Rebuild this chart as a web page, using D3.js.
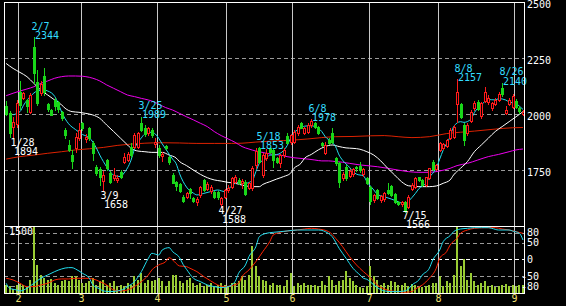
<!DOCTYPE html>
<html>
<head>
<meta charset="utf-8">
<script src="https://cdn.jsdelivr.net/npm/d3@7"></script>
<style>
  html, body { margin: 0; background: #000; }
  svg { display: block; }
  text { font-family: "DejaVu Sans Mono", monospace; font-size: 10px; }
</style>
</head>
<body>
<script>
// trading days shown, 2022
const dates = [
  "1/26","1/27","1/28","1/31",
  "2/1","2/2","2/3","2/4","2/7","2/8","2/9","2/10","2/14","2/15","2/16","2/17","2/18","2/21","2/22","2/24","2/25","2/28",
  "3/1","3/2","3/3","3/4","3/7","3/8","3/9","3/10","3/11","3/14","3/15","3/16","3/17","3/18","3/22","3/23","3/24","3/25","3/28","3/29","3/30","3/31",
  "4/1","4/4","4/5","4/6","4/7","4/8","4/11","4/12","4/13","4/14","4/15","4/18","4/19","4/20","4/21","4/22","4/25","4/26","4/27","4/28",
  "5/2","5/6","5/9","5/10","5/11","5/12","5/13","5/16","5/17","5/18","5/19","5/20","5/23","5/24","5/25","5/26","5/27","5/30","5/31",
  "6/1","6/2","6/3","6/6","6/7","6/8","6/9","6/10","6/13","6/14","6/15","6/16","6/17","6/20","6/21","6/22","6/23","6/24","6/27","6/28","6/29","6/30",
  "7/1","7/4","7/5","7/6","7/7","7/8","7/11","7/12","7/13","7/14","7/15","7/19","7/20","7/21","7/22","7/25","7/26","7/27","7/28","7/29",
  "8/1","8/2","8/3","8/4","8/5","8/8","8/9","8/10","8/12","8/15","8/16","8/17","8/18","8/19","8/22","8/23","8/24","8/25","8/26","8/29","8/30","8/31",
  "9/1","9/2","9/5"
];

const opens = [2035,2005,1945,1955,2100,2075,2065,2012,2302,2145,2095,2170,2045,2018,2062,2055,2010,1930,1862,1818,1848,1893,
  1960,1890,1937,1870,1766,1758,1702,1796,1737,1714,1707,1744,1789,1796,1856,1856,1856,1960,1937,1915,1930,1869,
  1851,1815,1858,1811,1729,1699,1689,1632,1632,1666,1628,1607,1640,1707,1667,1658,1652,1655,1601,1632,
  1662,1677,1699,1707,1692,1699,1672,1670,1775,1848,1729,1803,1851,1841,1803,1781,1818,1905,1875,
  1878,1915,1960,1915,1923,1952,1960,1945,1870,1826,1885,1915,1806,1781,1714,1766,1725,1732,1766,1771,1732,1717,
  1677,1617,1662,1617,1620,1662,1681,1643,1610,1598,1610,1588,1666,1677,1718,1707,1684,1714,1786,1756,
  1841,1851,1859,1893,1900,2045,2045,1952,1915,1970,2027,2053,1992,2060,2053,2027,2045,2064,2119,2004,2045,2034,
  2060,2030,2000];
const highs = [2060,2015,1990,2065,2150,2100,2070,2093,2344,2200,2150,2205,2050,2025,2075,2060,2015,1937,1885,1840,1915,1960,
  1965,1910,1945,1880,1773,1765,1745,1800,1745,1762,1729,1750,1826,1830,1870,1915,1923,1989,1952,1945,1937,1893,
  1863,1833,1862,1815,1736,1703,1692,1640,1655,1670,1632,1632,1681,1710,1699,1684,1658,1658,1632,1667,
  1685,1720,1729,1714,1710,1707,1699,1770,1848,1853,1826,1845,1850,1845,1811,1822,1848,1915,1912,
  1930,1952,1967,1945,1960,1978,1965,1950,1878,1875,1896,1937,1811,1789,1744,1774,1755,1762,1768,1789,1760,1722,
  1681,1645,1666,1640,1652,1692,1684,1647,1615,1612,1613,1640,1692,1720,1722,1710,1722,1762,1795,1780,
  1875,1870,1890,1937,1952,2157,2050,1960,1960,2020,2060,2065,2055,2123,2085,2055,2073,2100,2140,2035,2073,2090,
  2070,2035,2018];
const lows = [1995,1900,1894,1945,2025,2070,2012,2005,2140,2040,2085,2085,2015,1995,2020,2010,1975,1893,1835,1760,1833,1885,
  1930,1878,1885,1796,1730,1684,1658,1752,1692,1707,1699,1715,1781,1790,1811,1848,1848,1925,1905,1908,1900,1856,
  1811,1793,1845,1780,1692,1662,1655,1610,1628,1625,1610,1595,1632,1658,1662,1650,1628,1622,1588,1628,
  1655,1670,1692,1688,1670,1640,1668,1660,1760,1781,1720,1796,1826,1766,1781,1766,1811,1870,1868,
  1870,1908,1937,1911,1918,1945,1937,1911,1860,1822,1866,1870,1775,1677,1707,1707,1718,1725,1745,1744,1726,1688,
  1598,1610,1620,1610,1615,1642,1635,1603,1595,1592,1566,1583,1660,1672,1703,1680,1680,1710,1750,1750,
  1835,1845,1855,1888,1895,1967,1985,1863,1908,1965,2020,2020,1985,2053,2047,2020,2040,2058,2080,2000,2040,2028,
  2028,2008,1995];
const closes = [2000,1915,1965,2050,2040,2095,2035,2085,2186,2050,2135,2100,2025,1998,2035,2025,1985,1908,1841,1790,1900,1930,
  1938,1900,1893,1826,1737,1722,1729,1759,1699,1729,1717,1722,1811,1821,1818,1908,1915,1930,1911,1937,1908,1878,
  1818,1821,1848,1789,1695,1681,1658,1615,1647,1647,1613,1622,1677,1662,1687,1677,1632,1633,1628,1662,
  1672,1714,1722,1692,1704,1643,1692,1762,1835,1789,1818,1826,1833,1796,1789,1818,1841,1873,1907,
  1923,1945,1940,1937,1952,1970,1945,1915,1863,1863,1870,1878,1781,1699,1732,1714,1745,1754,1762,1750,1756,1692,
  1613,1640,1625,1635,1647,1647,1640,1607,1598,1607,1573,1632,1684,1714,1707,1684,1718,1759,1756,1774,
  1870,1866,1885,1930,1945,2101,1990,1885,1952,2012,2049,2024,2049,2098,2074,2049,2064,2089,2089,2018,2064,2083,
  2034,2015,2012];

// volume, thousand shares
const volumes = [186,149,97,172,201,186,149,298,1470,634,410,336,298,321,224,186,261,298,261,373,373,298,
  224,224,261,336,186,261,298,186,224,261,149,186,149,224,186,373,298,448,224,298,261,298,
  336,261,149,261,410,410,261,224,298,336,224,186,224,149,186,224,149,186,224,186,
  149,224,224,261,373,298,410,1045,612,373,298,261,186,224,186,186,149,298,448,
  149,224,186,224,186,186,186,149,261,186,373,298,186,261,298,485,336,261,186,127,112,149,
  612,373,298,186,224,172,276,239,186,172,224,149,201,186,127,127,149,186,224,224,
  373,149,261,224,410,1470,597,768,298,448,261,186,224,261,149,172,127,149,172,201,149,186,
  149,172,172];

// moving averages: [day index, price]
const maShort = [[2,1998],[4,2012],[5,2040],[7,2080],[9,2104],[11,2108],[12,2104],[14,2080],[15,2049],[16,2010],[18,1958],
  [20,1932],[22,1910],[24,1895],[26,1850],[27,1818],[28,1790],[30,1744],[31,1728],[33,1722],[34,1738],[36,1795],[37,1845],
  [39,1895],[40,1912],[42,1920],[43,1912],[45,1868],[46,1845],[48,1800],[49,1780],[50,1735],[52,1675],[54,1648],[55,1640],
  [57,1647],[59,1655],[61,1662],[63,1655],[64,1665],[66,1692],[68,1699],[69,1692],[71,1705],[72,1744],[73,1781],[75,1803],
  [76,1818],[77,1818],[79,1826],[81,1860],[82,1893],[83,1918],[85,1937],[86,1947],[88,1949],[89,1945],[91,1923],[92,1900],
  [94,1875],[95,1855],[96,1818],[97,1795],[99,1763],[100,1744],[101,1733],[103,1725],[104,1700],[106,1662],[107,1643],
  [109,1632],[111,1622],[113,1610],[115,1598],[116,1612],[118,1647],[119,1668],[121,1692],[122,1718],[124,1760],[125,1800],
  [126,1840],[128,1900],[129,1945],[131,1967],[132,1964],[134,1978],[135,2008],[137,2042],[138,2057],[139,2066],[141,2064],
  [142,2070],[144,2064],[145,2055],[147,2048],[148,2036],[149,2022]];
const maMid = [[0,2227],[2,2205],[4,2187],[6,2168],[8,2138],[10,2108],[12,2086],[14,2064],[16,2042],[17,2027],[19,2012],
  [21,2009],[23,2004],[25,1997],[27,1982],[29,1952],[31,1923],[33,1893],[35,1863],[36,1848],[38,1836],[40,1833],[42,1830],
  [45,1830],[47,1818],[49,1805],[50,1789],[52,1771],[54,1751],[56,1732],[58,1717],[60,1707],[62,1702],[64,1696],[66,1692],
  [68,1684],[71,1677],[73,1677],[74,1687],[76,1699],[78,1711],[80,1722],[82,1737],[83,1759],[85,1781],[86,1803],[88,1821],
  [90,1841],[92,1856],[94,1863],[96,1856],[98,1850],[100,1848],[102,1844],[104,1833],[106,1818],[108,1792],[110,1759],
  [112,1729],[114,1699],[116,1681],[119,1677],[122,1677],[124,1680],[126,1692],[128,1707],[129,1729],[131,1759],[133,1789],
  [135,1833],[137,1863],[139,1893],[141,1923],[143,1945],[145,1967],[147,1989],[148,2000],[149,2012]];
const maLong = [[0,2083],[2,2094],[4,2104],[6,2113],[8,2123],[10,2138],[12,2149],[14,2161],[16,2168],[18,2171],[20,2171],
  [22,2170],[23,2168],[25,2161],[27,2149],[29,2131],[31,2116],[33,2101],[35,2086],[37,2079],[39,2071],[41,2064],[43,2053],
  [44,2045],[46,2030],[48,2019],[50,2004],[52,1989],[54,1975],[56,1960],[58,1945],[60,1923],[62,1905],[64,1890],[66,1875],
  [68,1856],[70,1845],[72,1836],[73,1833],[75,1826],[77,1821],[79,1818],[81,1811],[83,1806],[85,1803],[87,1800],[89,1796],
  [91,1792],[93,1792],[95,1789],[97,1786],[99,1781],[102,1774],[104,1771],[107,1766],[110,1759],[113,1751],[116,1744],
  [119,1741],[122,1741],[125,1747],[128,1759],[130,1771],[133,1781],[136,1796],[139,1811],[142,1821],[145,1833],[147,1841],
  [149,1845]];
const maYear = [[0,1800],[4,1811],[8,1818],[12,1826],[16,1833],[20,1841],[24,1846],[28,1852],[32,1861],[36,1867],[40,1871],
  [45,1873],[50,1872],[55,1870],[60,1870],[65,1870],[68,1871],[72,1876],[77,1881],[83,1885],[87,1890],[91,1896],[95,1900],
  [100,1901],[105,1904],[109,1905],[113,1900],[117,1896],[122,1900],[127,1914],[131,1920],[135,1925],[141,1934],[146,1940],
  [149,1941]];

// RCI oscillators: [day index, value]
const rciShort = [[0,-72],[1,-87],[3,-92],[4,-95],[6,-87],[8,-72],[10,-57],[12,-47],[14,-37],[16,-29],[18,-25],[19,-25],
  [20,-29],[22,-42],[24,-57],[25,-77],[27,-89],[28,-95],[30,-97],[32,-95],[34,-89],[35,-82],[37,-67],[39,-37],[41,3],[42,18],
  [44,13],[45,28],[47,35],[48,23],[50,5],[51,-15],[52,-30],[54,-57],[56,-67],[58,-77],[60,-82],[62,-85],[64,-82],[66,-67],
  [67,-42],[69,-17],[70,8],[72,38],[73,68],[75,78],[77,81],[79,83],[81,85],[84,88],[87,88],[90,88],[92,83],[94,68],[96,33],
  [98,3],[100,-27],[102,-47],[103,-57],[104,-60],[105,-68],[107,-85],[109,-95],[111,-97],[113,-97],[115,-95],[116,-89],
  [117,-77],[119,-62],[120,-47],[122,-27],[123,-2],[125,28],[126,53],[128,71],[129,83],[131,91],[133,93],[135,95],[137,95],
  [139,95],[140,93],[142,88],[145,88],[146,85],[148,78],[149,58]];
const rciLong = [[0,-57],[2,-62],[4,-72],[6,-82],[8,-82],[10,-77],[12,-72],[14,-62],[16,-59],[18,-59],[20,-57],[23,-57],
  [25,-59],[27,-67],[29,-77],[31,-92],[33,-95],[35,-92],[37,-82],[39,-67],[41,-47],[42,-32],[44,-17],[46,-7],[47,5],[48,-2],
  [50,-20],[52,-22],[53,-27],[55,-37],[57,-52],[59,-65],[61,-77],[63,-82],[65,-79],[67,-72],[68,-52],[70,-32],[72,-7],
  [74,23],[76,53],[77,73],[79,81],[81,85],[84,88],[88,93],[90,91],[93,83],[95,63],[97,38],[99,8],[101,-17],[103,-37],
  [105,-55],[107,-77],[109,-89],[111,-95],[113,-97],[115,-99],[117,-97],[118,-89],[120,-77],[122,-57],[124,-27],[125,3],
  [127,23],[128,43],[130,63],[131,78],[133,88],[135,93],[138,95],[141,95],[143,91],[145,88],[147,83],[149,78]];

const peakDays = ["2/7","3/25","5/18","6/8","8/8","8/26"];
const troughDays = ["1/28","3/9","4/27","7/15"];
const priceTicks = [2500, 2250, 2000, 1750];
const priceGrid = [2250, 2000, 1750];
const rciTicks = [80, 50, 0, -50, -80];
const monthNames = ["2","3","4","5","6","7","8","9"];

const W = 566, H = 306;
const padL = 4, padR = 524, padT = 2, split = 226, padB = 293;

const svg = d3.select("body").append("svg").attr("width", W).attr("height", H)
  .style("background", "#000");

const x = d3.scalePoint().domain(d3.range(dates.length)).range([padL + 0.4, padR + 0.7]).padding(0.5);
const step = x.step();
const y = d3.scaleLinear().domain([1500, 2500]).range([split + 0.3, padT + 0.3]);
const yVol = d3.scaleLinear().domain([0, 1500]).range([padB, split]);
const yRci = d3.scaleLinear().domain([-100, 100]).range([padB - 0.4, split]);

const cx = (i) => Math.round(x(i));
const py = (v) => Math.round(y(v));

// grid
const grid = svg.append("g");
grid.selectAll("line.pg").data(priceGrid).join("line")
  .attr("x1", padL).attr("x2", padR)
  .attr("y1", (d) => Math.round(y(d)) + 0.5).attr("y2", (d) => Math.round(y(d)) + 0.5)
  .attr("stroke", "#9a9a9a").attr("stroke-dasharray", "4,3");
grid.selectAll("line.rg").data(rciTicks).join("line")
  .attr("x1", padL).attr("x2", padR)
  .attr("y1", (d) => Math.round(yRci(d)) + 0.5).attr("y2", (d) => Math.round(yRci(d)) + 0.5)
  .attr("stroke", (d) => (d === 0 ? "#ffffff" : "#9a9a9a")).attr("stroke-dasharray", "4,3");

// month separators
const monthStarts = dates
  .map((d, i) => ({ d, i }))
  .filter((o, k, arr) => k > 0 && o.d.split("/")[0] !== arr[k - 1].d.split("/")[0]);
const monthX = (o) => Math.round(x(o.i) - step / 2) + 0.5;
grid.selectAll("line.m").data(monthStarts).join("line")
  .attr("x1", monthX).attr("x2", monthX)
  .attr("y1", padT).attr("y2", padB)
  .attr("stroke", "#c8c8c8");

// volume
svg.append("g").selectAll("rect").data(volumes).join("rect")
  .attr("x", (d, i) => cx(i) - 1)
  .attr("width", 2)
  .attr("y", (d) => Math.round(yVol(d)))
  .attr("height", (d) => padB - Math.round(yVol(d)))
  .attr("fill", "#99cc33");

// RCI lines
const rciLine = d3.line().x((d) => x(d[0])).y((d) => yRci(d[1])).curve(d3.curveMonotoneX);
svg.append("path").datum(rciLong).attr("d", rciLine).attr("fill", "none").attr("stroke", "#ff2200").attr("stroke-width", 1);
svg.append("path").datum(rciShort).attr("d", rciLine).attr("fill", "none").attr("stroke", "#22ddee").attr("stroke-width", 1);

// moving averages
const maLine = d3.line().x((d) => x(d[0])).y((d) => y(d[1])).curve(d3.curveMonotoneX);
[[maYear, "#dd2200"], [maLong, "#ee00ee"], [maMid, "#ffffff"], [maShort, "#22ddee"]].forEach(([data, c]) => {
  svg.append("path").datum(data).attr("d", maLine).attr("fill", "none").attr("stroke", c).attr("stroke-width", 1);
});

// candles
const up = (i) => closes[i] >= opens[i];
const candle = svg.append("g").selectAll("g").data(d3.range(dates.length)).join("g");
candle.append("line")
  .attr("x1", (i) => cx(i) + 0.5).attr("x2", (i) => cx(i) + 0.5)
  .attr("y1", (i) => py(highs[i])).attr("y2", (i) => py(lows[i]) + 1)
  .attr("stroke", (i) => (up(i) ? "#ff1a1a" : "#19d619"));
candle.append("rect")
  .attr("x", (i) => (up(i) ? cx(i) - 0.5 : cx(i) - 1))
  .attr("y", (i) => py(Math.max(opens[i], closes[i])) + (up(i) ? 0.5 : 0))
  .attr("width", (i) => (up(i) ? 2 : 3))
  .attr("height", (i) => Math.max(1, py(Math.min(opens[i], closes[i])) - py(Math.max(opens[i], closes[i]))) + (up(i) ? 0 : 1))
  .attr("fill", (i) => (up(i) ? "#000" : "#19d619"))
  .attr("stroke", (i) => (up(i) ? "#ff1a1a" : "none"));

// peak / trough notes: date over price in one text block
const idx = (d) => dates.indexOf(d);
const notes = svg.append("g");
function note(i, value, yDate, color) {
  const t = notes.append("text").attr("y", yDate).attr("fill", color);
  t.append("tspan").attr("x", cx(i) - 2.5).text(dates[i]);
  t.append("tspan").attr("x", cx(i) + 1).attr("dy", 9.2).text(value);
}
peakDays.forEach((d) => {
  const i = idx(d);
  note(i, highs[i], y(highs[i]) - 7.5, "#33ddff");
});
troughDays.forEach((d) => {
  const i = idx(d);
  note(i, lows[i], y(lows[i]) + 7.7, "#ffffff");
});

// frame
const frame = svg.append("g").attr("stroke", "#ffffff").attr("fill", "none");
frame.append("rect").attr("x", padL + 0.5).attr("y", padT + 0.5).attr("width", padR - padL).attr("height", padB - padT);
frame.append("line").attr("x1", padL).attr("x2", padR + 1).attr("y1", split + 0.5).attr("y2", split + 0.5);

// axis labels
svg.append("g").selectAll("text").data(priceTicks).join("text")
  .attr("x", padR + 3).attr("y", (d) => y(d) + 5.5).attr("fill", "#fff").text((d) => d);
svg.append("g").selectAll("text").data(rciTicks).join("text")
  .attr("x", (d) => padR + 3 - (d < 0 ? 6 : 0)).attr("y", (d) => yRci(d) + 3.7).attr("fill", "#fff").text((d) => d);
svg.append("text").attr("x", padL + 5).attr("y", split + 9).attr("fill", "#fff").text(yVol.domain()[1]);
svg.append("g").selectAll("text").data(monthStarts).join("text")
  .attr("x", (o) => monthX(o)).attr("y", padB + 9.3).attr("text-anchor", "middle")
  .attr("fill", "#f0e070").text((o, k) => monthNames[k]);
</script>
</body>
</html>
